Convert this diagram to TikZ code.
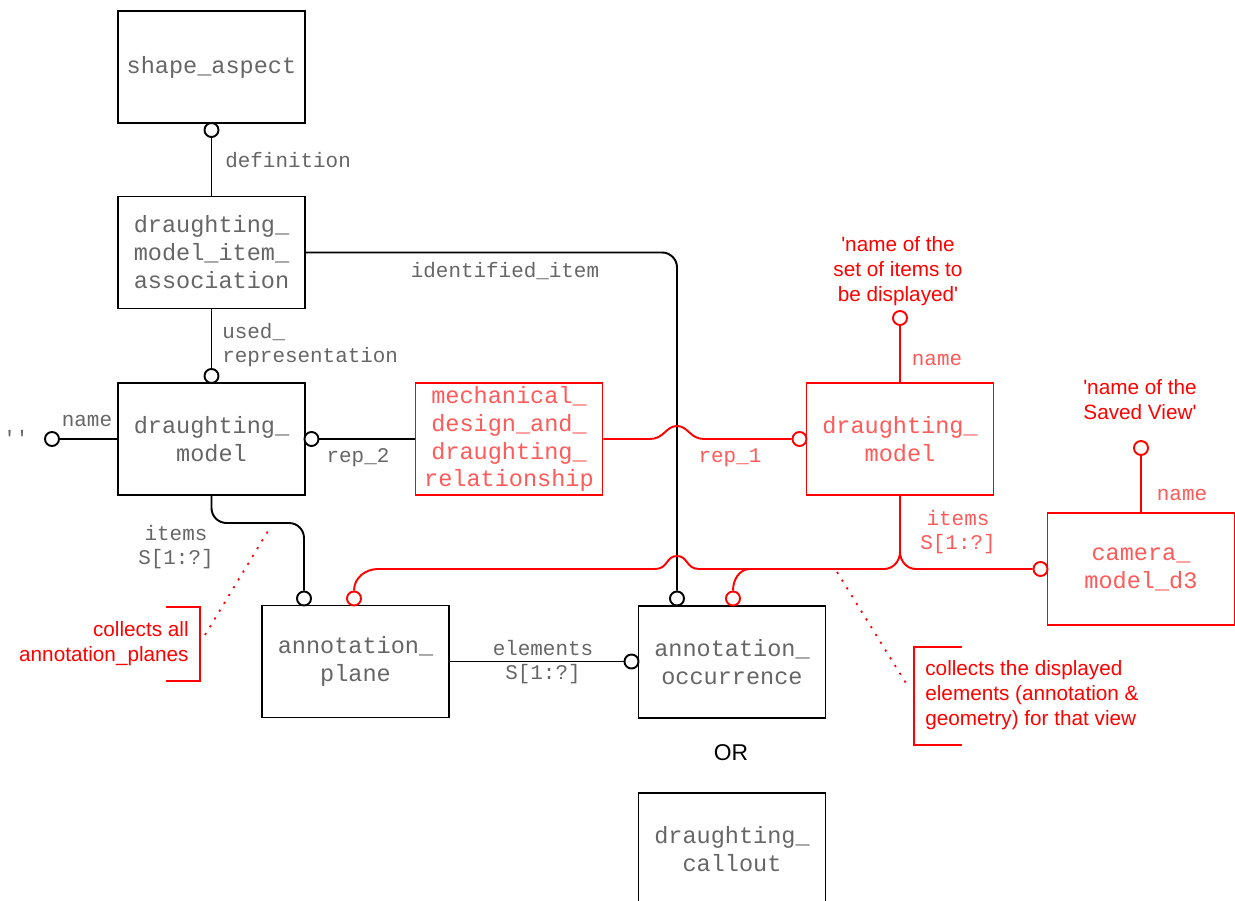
\documentclass[tikz,border=0pt]{standalone}
\usepackage{fontspec}
\setmainfont{Liberation Sans}
\setsansfont{Liberation Sans}
\setmonofont{Liberation Mono}

\definecolor{txtgray}{HTML}{666666}
\definecolor{txtred}{HTML}{FF5A5A}
\newcommand\boxfont{\fontsize{13.4}{15.9}\selectfont\ttfamily}
\newcommand\lblfont{\fontsize{11.9}{13.6}\selectfont\ttfamily}
\newcommand\notefont{\fontsize{11.8}{14.2}\selectfont\sffamily}

\tikzset{
  entity/.style={draw, line width=1.1pt, minimum width=3.74cm, minimum height=2.24cm,
    align=center, inner sep=0pt, text=txtgray, font=\boxfont},
  redentity/.style={entity, draw=red, text=txtred},
  ring/.style={draw, circle, line width=1.1pt, fill=white, minimum size=0.28cm, inner sep=0pt},
  redring/.style={ring, draw=red},
  lbl/.style={text=txtgray, font=\lblfont, inner sep=0pt},
  redlbl/.style={lbl, text=txtred},
  note/.style={text=red, font=\notefont, inner sep=0pt},
  link/.style={line width=1.1pt},
  redlink/.style={link, draw=red},
  hint/.style={draw=red, line width=1pt, dash pattern=on 1.2pt off 4pt},
}

\begin{document}
\begin{tikzpicture}[x=0.02cm, y=-0.02cm]
    \useasboundingbox (0,0) rectangle (1235,901);

    % entities
    \node[entity] (sa) at (211.5, 67) {shape\_aspect};
    \node[entity] (dmia) at (211.5, 252.5) {draughting\_\\model\_item\_\\association};
    \node[entity] (dm) at (211.5, 439) {draughting\_\\model};
    \node[redentity] (mdr) at (509, 439) {mechanical\_\\design\_and\_\\draughting\_\\relationship};
    \node[redentity] (rdm) at (900, 439) {draughting\_\\model};
    \node[redentity] (cam) at (1141, 569) {camera\_\\model\_d3};
    \node[entity] (ap) at (355.5, 661.5) {annotation\_\\plane};
    \node[entity] (occ) at (732, 662) {annotation\_\\occurrence};
    \node[entity] (dc) at (732, 849) {draughting\_\\callout};
    \node[font=\fontsize{13}{15}\selectfont\sffamily, inner sep=0pt] (or) at (731, 753) {OR};

    % rings
    \node[ring] (c_def) at (211.5, 130) {};
    \node[ring] (c_used) at (211.5, 376) {};
    \node[ring] (c_name) at (52, 439) {};
    \node[ring] (c_rep2) at (311.5, 439) {};
    \node[redring] (c_rep1) at (799.5, 439) {};
    \node[redring] (c_rdmname) at (900, 318) {};
    \node[redring] (c_camname) at (1141, 448) {};
    \node[redring] (c_cam) at (1040.5, 569) {};
    \node[ring] (c_ap1) at (304, 598.5) {};
    \node[redring] (c_ap2) at (354, 598.5) {};
    \node[ring] (c_idi) at (677, 598.5) {};
    \node[redring] (c_occ2) at (733, 598.5) {};
    \node[ring] (c_elem) at (631.5, 661.5) {};

    % black links
    \draw[link] (c_def) -- (dmia);
    \draw[link] (dmia) -- (c_used);
    \draw[link] (dm) -- (c_name);
    \draw[link] (c_rep2) -- (mdr);
    \draw[link] (ap) -- (c_elem);
    \draw[link, rounded corners=0.3cm] (dmia.east) -| (c_idi);
    \draw[link, rounded corners=0.3cm] (dm.south) -- (211.5, 523) -| (c_ap1);

    % red links, jumping over the black one
    \draw[redlink] (rdm) -- (c_rdmname);
    \draw[redlink] (cam) -- (c_camname);
    \draw[redlink] (mdr.east) -- (650, 439)
        .. controls (664, 439) and (666, 426) .. (677, 426)
        .. controls (688, 426) and (690, 439) .. (704, 439) -- (c_rep1);
    \coordinate (j) at (900, 552);
    \draw[redlink] (rdm.south) -- (j) to[out=-90, in=0] (884, 569) -- (699, 569)
        .. controls (686, 569) and (688, 556) .. (677, 556)
        .. controls (666, 556) and (668, 569) .. (655, 569)
        -- (378, 569) to[out=180, in=90] (c_ap2.north);
    \draw[redlink] (j) to[out=-90, in=180] (916, 569) -- (c_cam);
    \draw[redlink] (c_occ2.north) to[out=90, in=180] (750, 569);

    % labels
    \node[lbl, anchor=west] (l_def) at (225, 160) {definition};
    \node[lbl, anchor=west, align=left] (l_used) at (222, 345) {used\_\\representation};
    \node[lbl] (l_idi) at (505, 271) {identified\_item};
    \node[lbl] (l_name) at (87, 421) {name};
    \node[lbl] (l_quote) at (16, 438) {''};
    \node[lbl] (l_rep2) at (358, 458) {rep\_2};
    \node[redlbl] (l_rep1) at (730, 458) {rep\_1};
    \node[lbl, align=center] (l_items) at (176, 547) {items\\S[1:?]};
    \node[lbl, align=center] (l_elem) at (543, 662) {elements\\S[1:?]};
    \node[redlbl] (l_rname) at (937, 360) {name};
    \node[redlbl, align=center] (l_ritems) at (958, 532) {items\\S[1:?]};
    \node[redlbl] (l_cname) at (1182, 495) {name};
    \node[note, align=center] (v_set) at (898, 271)
        {\textquotesingle name of the\\set of items to\\be displayed\textquotesingle};
    \node[note, align=center] (v_view) at (1140, 400)
        {\textquotesingle name of the\\Saved View\textquotesingle};

    % notes
    \node[note, align=right, anchor=east] (n_planes) at (189, 644)
        {collects all\\annotation\_planes};
    \draw[red, line width=1pt] (166, 607) -| (200, 681) -- (166, 681);
    \coordinate (p_planes) at (268, 531);
    \draw[hint] (205, 635) -- (p_planes);

    \node[note, align=left, anchor=west] (n_view) at (925, 695)
        {collects the displayed\\elements (annotation \&\\geometry) for that view};
    \draw[red, line width=1pt] (962, 647) -| (914, 745) -- (962, 745);
    \coordinate (p_view) at (837, 572);
    \draw[hint] (p_view) -- (909, 688);
\end{tikzpicture}
\end{document}
